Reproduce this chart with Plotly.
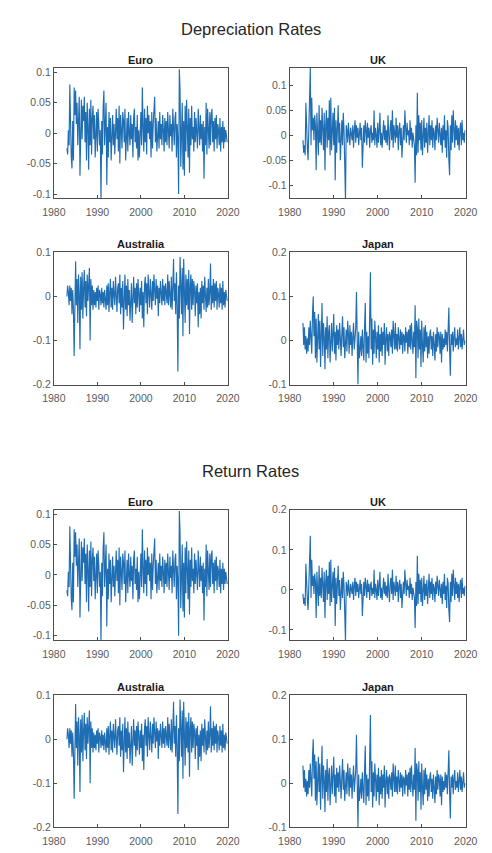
import plotly.graph_objects as go

# ---------------- data (values x 1000, bi-monthly, Jan 1983 .. Nov 2019) ----------------
START_YEAR = 1983
PER_YEAR = 6

dep_euro = [
    -25, -35, 5, -20, 80, -10,
    -40, -58, 20, -45, 75, 30,
    70, 15, 50, -20, 40, 60,
    -70, 30, 55, -10, 45, 20,
    60, -15, 35, -45, 50, 10,
    -60, 40, -20, 55, -35, 25,
    45, -10, 30, -40, 20, 35,
    -30, 40, 15, -20, 5, -110,
    20, -35, 45, 70, -20, 30,
    50, -85, 10, -40, 35, -15,
    25, -45, 10, 30, -20, 15,
    -35, 20, 40, -10, 25, -30,
    45, -50, 30, 5, -25, 35,
    20, -15, 40, -45, 10, 25,
    -30, 35, 0, -20, 30, -10,
    15, -40, 25, 40, -15, 10,
    -25, 30, -45, 5, -40, 20,
    35, -20, 75, 10, -30, 40,
    -15, 25, -35, 45, 0, 30,
    -10, 20, -40, 35, -25, 15,
    30, 60, -15, 25, -30, 10,
    20, -25, 35, -10, 15, -20,
    30, 5, -30, 25, -15, 20,
    -20, 35, 10, -25, 30, -5,
    15, -30, 40, 0, -20, 25,
    35, -40, 15, -10, -100, 105,
    70, -55, 30, 50, -60, 20,
    -70, 45, -30, 55, 10, -40,
    40, -65, 25, -20, 45, -10,
    10, -30, 35, -15, 25, 5,
    -25, 40, 0, -20, 30, -10,
    15, -30, 20, -75, 10, -20,
    50, -35, 40, 10, -25, 35,
    -20, 30, 40, -15, 20, -30,
    25, -10, 30, -25, 15, 5,
    -20, 25, -30, 10, -15, 20,
    -25, 10, -15, 5, -10, -15,
]

dep_uk = [
    -10, -35, -20, -40, 65, -15,
    -25, -50, 10, 40, 135, -20,
    75, 10, 35, -10, 40, 20,
    -70, 45, 15, -40, 60, -15,
    30, -20, 55, 10, -30, 45,
    -70, 20, 50, -25, 35, -10,
    70, -40, 75, -30, 20, 45,
    -20, 55, -90, 30, -35, 40,
    60, -15, 25, -50, 10, 30,
    -20, 45, 10, -60, -130, 20,
    10, -15, 25, 0, -20, 15,
    5, -10, 20, -25, 10, 30,
    -15, 20, -5, 15, -20, 10,
    25, -10, 15, -65, 5, 20,
    -15, 30, 10, -20, 25, -5,
    15, -25, 10, 20, -15, 5,
    -10, 50, -20, 15, 0, -25,
    25, -15, 10, 45, -20, 5,
    -25, 15, 30, -10, 20, -15,
    10, -20, 40, 0, -30, 15,
    30, -10, 50, -25, 20, 5,
    -15, 35, -5, 20, -30, 10,
    25, -20, 15, -45, 5, 20,
    -10, 50, 15, -15, 25, 0,
    10, -20, 30, -10, 15, -25,
    5, -15, -20, -95, 20, -40,
    85, -35, 40, -10, 25, -30,
    30, -40, 10, 35, -25, 15,
    -15, 25, -35, 10, 40, -20,
    20, -10, 30, -25, 15, 5,
    -30, 20, -10, 35, 0, -15,
    25, 10, -20, 15, -35, 20,
    -10, 40, -25, 10, -45, 30,
    15, -50, -80, 20, -30, 40,
    -15, 50, 10, -25, 30, -10,
    20, -20, 15, -30, 10, 25,
    -20, 30, -10, 5, -15, 10,
]

dep_australia = [
    0, 25, 10, -20, 25, -10,
    20, -40, 15, -30, -135, 30,
    80, -20, 40, -60, 50, 10,
    -120, 45, -30, 55, -50, 20,
    60, -25, 35, -45, 50, -10,
    30, 65, -100, 40, -20, 25,
    -30, 15, -20, 10, -25, 20,
    -10, 25, -30, 15, 5, -20,
    20, -15, 10, -25, 15, -5,
    -30, 25, -20, 30, -35, 10,
    40, -25, 20, -30, 35, 5,
    -20, 45, 10, -35, 20, 30,
    -15, 50, -40, 20, -25, 35,
    -75, 10, 50, -30, 25, -45,
    40, -20, 15, -55, 10, 30,
    -60, 25, 45, -15, 20, -40,
    30, -25, 40, 5, -35, 20,
    -20, 35, -50, 10, -70, 25,
    45, -15, 30, -40, 50, 10,
    -25, 40, 0, -30, 35, -10,
    50, 15, -20, 40, -5, 25,
    -45, 20, -15, 35, 0, -20,
    40, -10, 25, -20, 30, 5,
    -15, 50, -20, 35, 10, -25,
    45, -30, 20, 85, -10, 30,
    -40, 55, -20, -170, 25, -50,
    90, 20, -40, 65, -90, 85,
    30, -60, 50, -20, 40, -30,
    60, -85, 25, 50, -30, 40,
    -20, 35, 15, -45, 25, -15,
    30, -70, 10, -40, 20, -50,
    35, -15, 25, -30, 45, 0,
    -35, 20, -25, 40, -20, 10,
    75, -30, 25, -15, 40, -25,
    30, -10, 35, -30, 20, 5,
    -25, 30, -15, 20, -30, 35,
    -20, 10, -25, 15, -10, -10,
]

dep_japan = [
    40, -10, 30, -20, 10, -30,
    5, -25, 30, -10, 45, 20,
    -30, 60, 100, 10, 65, -40,
    50, -50, 30, 60, -20, 45,
    -60, 25, 85, -35, 40, 10,
    -65, 30, -20, 55, -40, 20,
    35, -50, 15, 40, -25, 10,
    60, -30, 20, -45, 35, -10,
    25, -20, 40, 5, -35, 15,
    55, -15, 30, -40, 10, 25,
    -25, 45, 15, -30, 35, -10,
    20, -35, 10, 40, -20, 5,
    30, 110, -25, -100, 20, -40,
    -20, 10, -35, 25, -15, -45,
    30, 85, -50, 20, -30, 10,
    -40, 45, 155, -20, 50, -55,
    25, -30, 45, 10, -40, 20,
    -20, 35, -50, 15, -25, 30,
    -35, 20, -10, 40, -55, 5,
    30, -25, 15, -35, 20, 10,
    -15, 25, -30, 45, 0, -20,
    40, -20, 15, -25, 30, 5,
    -20, 25, -10, 20, -30, 15,
    10, -25, 30, -5, 20, -30,
    25, -15, 35, -20, 40, 0,
    -30, 20, -15, 80, -85, 45,
    30, -40, 50, -20, 25, -60,
    45, -10, -50, 30, -25, 35,
    -15, 20, -40, 10, -30, 15,
    25, -20, 10, -35, 20, -10,
    -45, 15, -25, 30, -15, 20,
    10, -30, 20, -50, 15, -20,
    5, -15, 25, -10, 20, -25,
    30, 75, -20, -80, 15, -10,
    20, -25, 10, 30, -15, 5,
    -10, 25, -20, 10, 30, -15,
    15, -20, 5, 25, -10, 0,
]

# return-rate panels look the same as the depreciation panels in the picture
ret_euro = list(dep_euro)
ret_uk = list(dep_uk)
ret_australia = list(dep_australia)
ret_japan = list(dep_japan)

panel_titles = ["Euro", "UK", "Australia", "Japan"]
section_titles = ["Depreciation Rates", "Return Rates"]
x_ticks = [1980, 1990, 2000, 2010, 2020]

# (tickvals, ticktext, range) for each panel
y_euro = ([-0.1, -0.05, 0, 0.05, 0.1], ["-0.1", "-0.05", "0", "0.05", "0.1"], [-0.107, 0.107])
y_uk_dep = ([-0.1, -0.05, 0, 0.05, 0.1], ["-0.1", "-0.05", "0", "0.05", "0.1"], [-0.126, 0.134])
y_aus = ([-0.2, -0.1, 0, 0.1], ["-0.2", "-0.1", "0", "0.1"], [-0.2, 0.1])
y_jap = ([-0.1, 0, 0.1, 0.2], ["-0.1", "0", "0.1", "0.2"], [-0.1, 0.2])
y_uk_ret = ([-0.1, 0, 0.1, 0.2], ["-0.1", "0", "0.1", "0.2"], [-0.125, 0.2])

# ---------------- layout geometry (pixels) ----------------
W, H = 492, 853
col_px = [(44, 227), (292, 477)]
row_px = [(63, 195), (250, 384), (511, 643), (699, 833)]
section_y_px = [23, 472]

panels = [
    (dep_euro, 0, 0, "Euro", y_euro),
    (dep_uk, 0, 1, "UK", y_uk_dep),
    (dep_australia, 1, 0, "Australia", y_aus),
    (dep_japan, 1, 1, "Japan", y_jap),
    (ret_euro, 2, 0, "Euro", y_euro),
    (ret_uk, 2, 1, "UK", y_uk_ret),
    (ret_australia, 3, 0, "Australia", y_aus),
    (ret_japan, 3, 1, "Japan", y_jap),
]

LINE = "#1f6db3"
AX = "#4d4d4d"
TICKFONT = dict(family="Liberation Sans, Arial, sans-serif", size=10.5, color="#5a5a5a")

fig = go.Figure()
layout = dict(
    width=W, height=H, margin=dict(l=0, r=0, t=0, b=0),
    paper_bgcolor="white", plot_bgcolor="white", showlegend=False,
    annotations=[],
)

for i, (vals, r, c, title, (tv, tt, rng)) in enumerate(panels):
    k = "" if i == 0 else str(i + 1)
    t = [START_YEAR + j / PER_YEAR for j in range(len(vals))]
    y = [v / 1000 for v in vals]
    fig.add_trace(go.Scatter(
        x=t, y=y, mode="lines", line=dict(color=LINE, width=1.15),
        xaxis="x" + k, yaxis="y" + k, hoverinfo="skip",
    ))
    x0, x1 = col_px[c]
    top, bot = row_px[r]
    layout["xaxis" + k] = dict(
        domain=[x0 / W, x1 / W], anchor="y" + k, range=[1980, 2020],
        tickvals=x_ticks, ticktext=[str(v) for v in x_ticks],
        showgrid=False, zeroline=False, showline=True, mirror=True,
        linecolor=AX, linewidth=1, ticks="inside", ticklen=3, tickcolor=AX,
        tickfont=TICKFONT, ticklabelstandoff=4,
    )
    layout["yaxis" + k] = dict(
        domain=[1 - bot / H, 1 - top / H], anchor="x" + k, range=rng,
        tickvals=tv, ticktext=tt,
        showgrid=False, zeroline=False, showline=True, mirror=True,
        linecolor=AX, linewidth=1, ticks="inside", ticklen=3, tickcolor=AX,
        tickfont=TICKFONT,
    )
    layout["annotations"].append(dict(
        text="<b>" + title + "</b>", xref="paper", yref="paper",
        x=(x0 + x1) / 2 / W, y=1 - top / H, xanchor="center", yanchor="bottom",
        yshift=0, showarrow=False,
        font=dict(family="Liberation Sans, Arial, sans-serif", size=11, color="#1a1a1a"),
    ))

for s, ypx in zip(section_titles, section_y_px):
    layout["annotations"].append(dict(
        text=s, xref="paper", yref="paper", x=251 / W, y=1 - ypx / H,
        xanchor="center", yanchor="middle", showarrow=False,
        font=dict(family="Liberation Sans, Arial, sans-serif", size=16.5, color="#262626"),
    ))

fig.update_layout(**layout)
fig.write_html("out.html")
